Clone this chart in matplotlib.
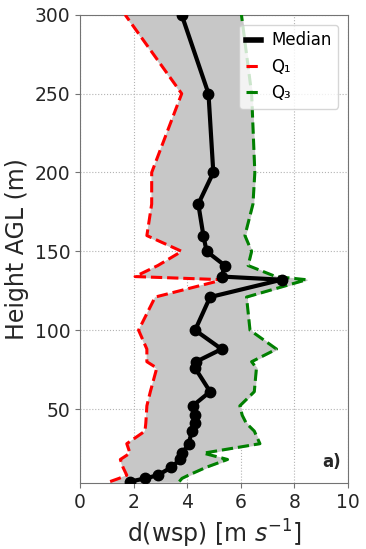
import numpy as np
from matplotlib import pyplot as plt
from matplotlib.lines import Line2D

# Profile of d(wsp) with height: median and interquartile band

heights = [4, 6, 8, 13, 18, 22, 28, 36, 41, 46, 52, 61, 76, 80, 88, 100,
           121, 132, 134, 141, 150, 160, 180, 200, 250, 300]
median = [1.87, 2.43, 2.9, 3.4, 3.73, 3.82, 4.05, 4.17, 4.3, 4.3, 4.2, 4.85,
          4.29, 4.33, 5.28, 4.29, 4.85, 7.52, 5.28, 5.4, 4.72, 4.6, 4.41,
          4.97, 4.79, 3.79]
q1 = [1.12, 1.45, 1.74, 1.6, 1.5, 1.86, 1.74, 2.42, 2.45, 2.47, 2.49, 2.62,
      2.86, 2.49, 2.49, 2.18, 2.8, 5.34, 2.05, 2.9, 3.79, 2.49, 2.67, 2.67,
      3.79, 1.68]
q3 = [3.7, 3.8, 4.04, 4.7, 5.5, 4.6, 6.71, 6.5, 6.2, 6.05, 5.96, 6.5, 6.58,
      6.4, 7.33, 6.34, 6.21, 8.45, 7.3, 6.27, 6.4, 6.15, 6.45, 6.52, 6.4,
      6.02]

fig = plt.figure(figsize=(3.66, 5.49), dpi=100)
ax = fig.add_axes([0.219, 0.12, 0.732, 0.853])

ax.fill_betweenx(heights, q1, q3, color='0.78', zorder=1)
ax.plot(median, heights, 'k-o', lw=3, ms=7.5, zorder=4)
ax.plot(q1, heights, 'r--', lw=2.2, zorder=3)
ax.plot(q3, heights, '--', color='green', lw=2.2, zorder=3)

ax.set_xlim(0, 10)
ax.set_ylim(3, 300)
ax.set_xticks([0, 2, 4, 6, 8, 10])
ax.set_yticks([50, 100, 150, 200, 250, 300])
ax.grid(True, ls=':', color='0.7', lw=0.8)
ax.set_axisbelow(True)
for s in ax.spines.values():
    s.set_color('0.45')
ax.tick_params(colors='0.45', labelcolor='0.15', labelsize=13.5)

ax.set_xlabel('d(wsp) [m $s^{-1}$]', fontsize=17, color='0.15')
ax.set_ylabel('Height AGL (m)', fontsize=17, color='0.15')

handles = [Line2D([], [], color='k', lw=4),
           Line2D([], [], color='r', ls='--', lw=2.2),
           Line2D([], [], color='green', ls='--', lw=2.2)]
ax.legend(handles, ['Median', 'Q\u2081', 'Q\u2083'], loc='upper right',
          fontsize=12, handlelength=0.9, handletextpad=0.6,
          borderaxespad=0.6, framealpha=0.8)
ax.text(0.975, 0.025, 'a)', transform=ax.transAxes, ha='right',
        va='bottom', fontsize=12, fontweight='bold', color='0.15')

fig.savefig('out.png', dpi=100)
